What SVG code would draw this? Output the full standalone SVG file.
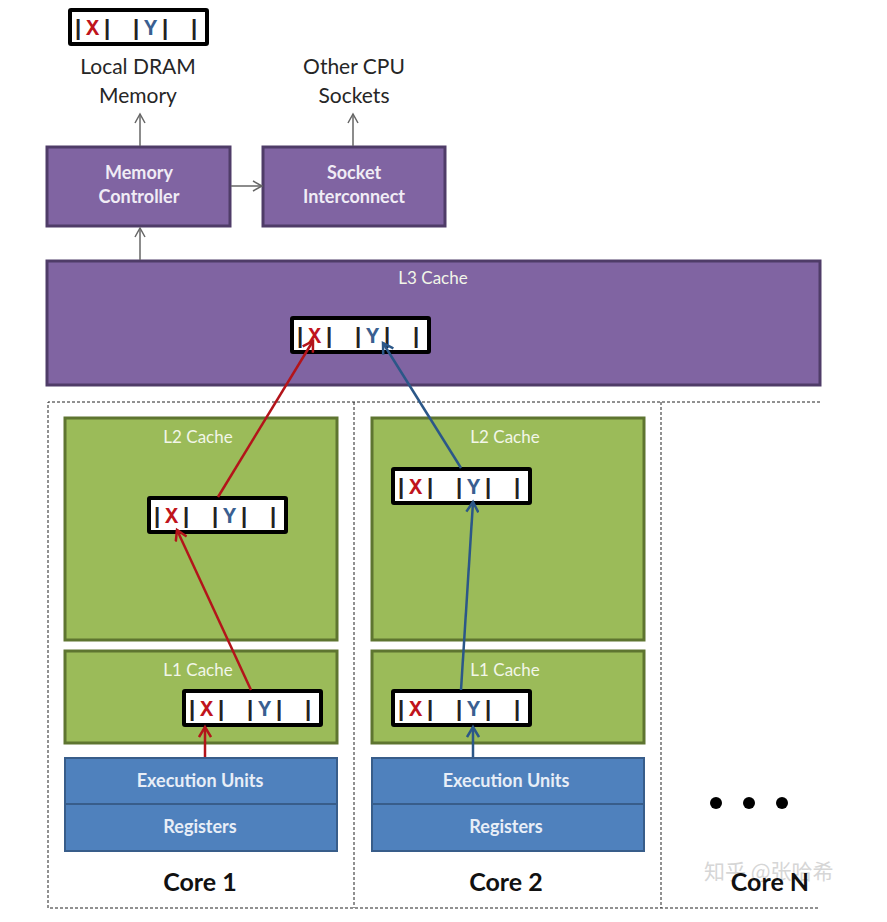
<svg xmlns="http://www.w3.org/2000/svg" xmlns:xlink="http://www.w3.org/1999/xlink" width="887" height="922" viewBox="0 0 887 922">
<style>
.lbl{font-family:Lato,"Open Sans","Liberation Sans",sans-serif;}
.cap{font-size:21px;fill:#262626;text-anchor:middle;}
.pbox{fill:#8064a2;stroke:#4f3c68;stroke-width:3;}
.gbox{fill:#9bbb59;stroke:#5e7530;stroke-width:3;}
.bbox{fill:#4f81bd;stroke:#385d8a;stroke-width:2;}
.wt{font-size:18px;font-weight:bold;fill:#f0ecf5;text-anchor:middle;}
.ct{font-size:17px;fill:#f2f6e8;text-anchor:middle;}
.bt{font-size:18px;font-weight:bold;fill:#e8eef7;text-anchor:middle;}
.core{font-size:25px;font-weight:bold;fill:#111;text-anchor:middle;}
.dash{fill:none;stroke:#222;stroke-width:1;stroke-dasharray:3 2;}
.gray{stroke:#666;stroke-width:1.5;fill:none;}
.red{stroke:#b3141a;stroke-width:2.5;fill:none;}
.blue{stroke:#2b5788;stroke-width:2.5;fill:none;}
.reg{font-family:"Liberation Mono","DejaVu Sans Mono",monospace;font-size:22px;font-weight:bold;letter-spacing:1.3px;fill:#222;}
</style>
<defs>
<marker id="ag" markerWidth="12" markerHeight="12" refX="10" refY="6" orient="auto" markerUnits="userSpaceOnUse"><path d="M1,1 L10,6 L1,11" fill="none" stroke="#666" stroke-width="1.5"/></marker>
<marker id="ar" markerWidth="14" markerHeight="14" refX="11" refY="7" orient="auto" markerUnits="userSpaceOnUse"><path d="M1,1 L11,7 L1,13" fill="none" stroke="#b3141a" stroke-width="2.5"/></marker>
<marker id="ab" markerWidth="14" markerHeight="14" refX="11" refY="7" orient="auto" markerUnits="userSpaceOnUse"><path d="M1,1 L11,7 L1,13" fill="none" stroke="#2b5788" stroke-width="2.5"/></marker>
<g id="reg">
<rect x="0" y="0" width="137" height="34" fill="#fff" stroke="#000" stroke-width="4" rx="1"/>
<text class="reg" x="1.5" y="25" xml:space="preserve">|<tspan fill="#c0141c">X</tspan>| |<tspan fill="#3a5f91">Y</tspan>| |</text>
</g>
</defs>
<rect width="887" height="922" fill="#fff"/>

<!-- watermark -->
<text x="704" y="879" style="font-family:'Noto Sans CJK SC',sans-serif;font-size:21px;fill:#d6d6d6;">知乎 @张哈希</text>

<g id="dram">
<use xlink:href="#reg" x="70" y="10"/>
<text class="lbl cap" x="138" y="74">Local DRAM</text>
<text class="lbl cap" x="138" y="103">Memory</text>
</g>
<g id="othercpu">
<text class="lbl cap" x="354" y="74">Other CPU</text>
<text class="lbl cap" x="354" y="103">Sockets</text>
</g>
<g id="memctrl">
<rect class="pbox" x="47" y="147" width="183" height="79"/>
<text class="lbl wt" x="139" y="179">Memory</text>
<text class="lbl wt" x="139" y="203">Controller</text>
</g>
<g id="socket">
<rect class="pbox" x="263" y="147" width="182" height="79"/>
<text class="lbl wt" x="354" y="179">Socket</text>
<text class="lbl wt" x="354" y="203">Interconnect</text>
</g>
<g id="l3">
<rect class="pbox" x="47" y="261" width="773" height="124"/>
<text class="lbl ct" x="433" y="284">L3 Cache</text>
<use xlink:href="#reg" x="292" y="318"/>
</g>

<g id="cores-frame">
<path class="dash" d="M820,402 H48 V908 H820 M354,402 V908 M661,402 V908"/>
</g>

<g id="core1">
<rect class="gbox" x="65" y="418" width="272" height="222"/>
<text class="lbl ct" x="198" y="443">L2 Cache</text>
<use xlink:href="#reg" x="149" y="498"/>
<rect class="gbox" x="65" y="651" width="272" height="92"/>
<text class="lbl ct" x="198" y="676">L1 Cache</text>
<use xlink:href="#reg" x="184" y="691"/>
<rect class="bbox" x="65" y="758" width="272" height="46"/>
<text class="lbl bt" x="200" y="787">Execution Units</text>
<rect class="bbox" x="65" y="804" width="272" height="47"/>
<text class="lbl bt" x="200" y="833">Registers</text>
<text class="lbl core" x="200" y="891">Core 1</text>
</g>

<g id="core2">
<rect class="gbox" x="372" y="418" width="272" height="222"/>
<text class="lbl ct" x="505" y="443">L2 Cache</text>
<use xlink:href="#reg" x="393" y="469"/>
<rect class="gbox" x="372" y="651" width="272" height="92"/>
<text class="lbl ct" x="505" y="676">L1 Cache</text>
<use xlink:href="#reg" x="393" y="691"/>
<rect class="bbox" x="372" y="758" width="272" height="46"/>
<text class="lbl bt" x="506" y="787">Execution Units</text>
<rect class="bbox" x="372" y="804" width="272" height="47"/>
<text class="lbl bt" x="506" y="833">Registers</text>
<text class="lbl core" x="506" y="891">Core 2</text>
</g>

<g id="coreN">
<circle cx="716" cy="803" r="6" fill="#000"/>
<circle cx="749" cy="803" r="6" fill="#000"/>
<circle cx="782" cy="803" r="6" fill="#000"/>
<text class="lbl core" x="770" y="891">Core N</text>
</g>

<g id="connectors">
<path class="gray" d="M140,146 V114" marker-end="url(#ag)"/>
<path class="gray" d="M353,146 V114" marker-end="url(#ag)"/>
<path class="gray" d="M231,186 H262" marker-end="url(#ag)"/>
<path class="gray" d="M140,260 V228" marker-end="url(#ag)"/>
<path class="red" d="M205,757 V727" marker-end="url(#ar)"/>
<path class="red" d="M251,690 L177,530" marker-end="url(#ar)"/>
<path class="red" d="M218,497 L313,341" marker-end="url(#ar)"/>
<path class="blue" d="M473,757 V727" marker-end="url(#ab)"/>
<path class="blue" d="M461,690 L473,502" marker-end="url(#ab)"/>
<path class="blue" d="M461,468 L383,343" marker-end="url(#ab)"/>
</g>
</svg>
